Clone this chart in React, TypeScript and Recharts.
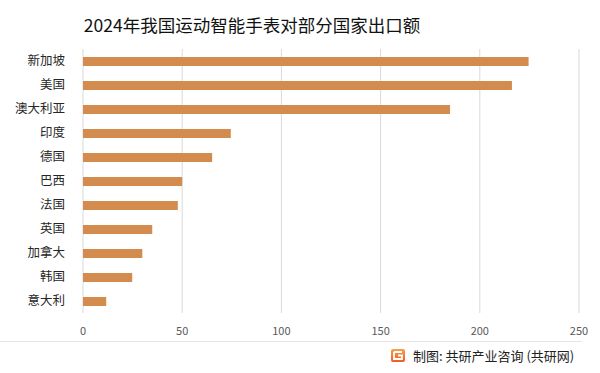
import { BarChart, Bar, XAxis, YAxis, CartesianGrid } from "recharts";

const countries = [
  "新加坡",
  "美国",
  "澳大利亚",
  "印度",
  "德国",
  "巴西",
  "法国",
  "英国",
  "加拿大",
  "韩国",
  "意大利",
];
const exportValues = [224.6, 216.2, 185, 74.5, 65.1, 50, 47.8, 34.9, 29.9, 24.8, 11.7];
const xTicks = [0, 50, 100, 150, 200, 250];

const data = countries.map((name, i) => ({ name, value: exportValues[i] }));

const FONT = '"Noto Sans CJK SC", "Noto Sans", sans-serif';

export default function App() {
  return (
    <div
      style={{
        position: "fixed",
        left: 0,
        top: 0,
        width: 600,
        height: 373,
        background: "#fff",
        fontFamily: FONT,
      }}
    >
      {/* title */}
      <div
        style={{
          position: "absolute",
          left: 0,
          width: 504,
          top: 11,
          textAlign: "center",
          fontSize: 17.5,
          color: "#111",
          lineHeight: "28px",
        }}
      >
        2024年我国运动智能手表对部分国家出口额
      </div>

      <div style={{ position: "absolute", left: 0, top: 0 }}>
        <BarChart
          width={600}
          height={373}
          data={data}
          layout="vertical"
          margin={{ top: 49, right: 21, bottom: 40, left: 0 }}
          barCategoryGap={0}
        >
          <CartesianGrid horizontal={false} stroke="#d9d9d9" />
          <XAxis
            type="number"
            domain={[0, 250]}
            ticks={xTicks}
            axisLine={false}
            tickLine={false}
            height={20}
            tickMargin={8}
            tick={{ fontSize: 11, fill: "#595959", fontFamily: FONT }}
          />
          <YAxis
            type="category"
            dataKey="name"
            width={83}
            axisLine={false}
            tickLine={false}
            tickMargin={12}
            tick={{ fontSize: 12.5, fill: "#262626", fontFamily: FONT }}
          />
          <Bar dataKey="value" fill="#d48c4e" barSize={9} isAnimationActive={false} />
        </BarChart>
      </div>

      {/* footer */}
      <div
        style={{
          position: "absolute",
          left: 0,
          top: 341,
          width: 582,
          height: 1,
          background: "#e6e6e6",
        }}
      />
      <div
        style={{
          position: "absolute",
          left: 391,
          top: 346,
          height: 18,
          display: "flex",
          alignItems: "center",
          gap: 8,
          fontSize: 13,
          color: "#222",
        }}
      >
        <svg width={14} height={13} viewBox="0 0 14 13">
          <defs>
            <linearGradient id="lg" x1="0" y1="0" x2="0" y2="1">
              <stop offset="0" stopColor="#f9a04a" />
              <stop offset="1" stopColor="#ee5a24" />
            </linearGradient>
          </defs>
          <rect x={0} y={0} width={14} height={13} rx={2} fill="url(#lg)" />
          <path d="M3 3 H11 M3 3 V10 H11 V6.5 H7" stroke="#fff" strokeWidth={1.8} fill="none" />
        </svg>
        <span>制图: 共研产业咨询 (共研网)</span>
      </div>
    </div>
  );
}
